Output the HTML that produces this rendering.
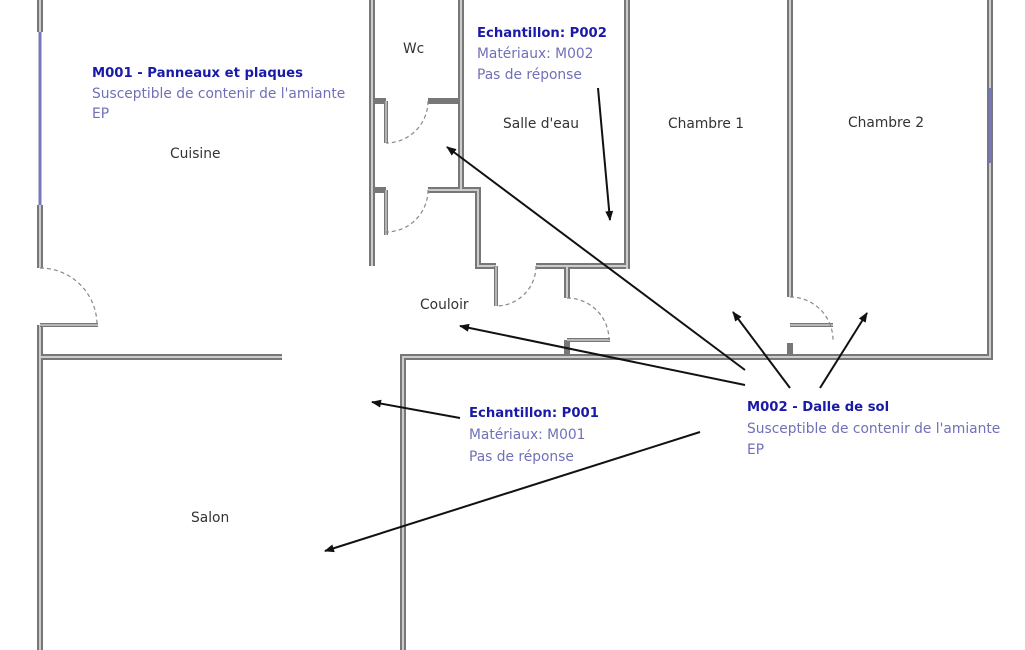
<!DOCTYPE html>
<html><head><meta charset="utf-8"><style>
html,body{margin:0;padding:0;background:#fff;}
svg{display:block;}
text{font-family:"DejaVu Sans","Liberation Sans",sans-serif;font-size:13.8px;}
.t{fill:#333;}
.b{fill:#1a1aa8;font-weight:bold;font-size:13.2px;}
.l{fill:#7070b8;}
</style></head><body>
<svg width="1025" height="650" viewBox="0 0 1025 650" xmlns="http://www.w3.org/2000/svg">
<defs>
<marker id="a" markerWidth="10" markerHeight="8" refX="9" refY="4" orient="auto" markerUnits="userSpaceOnUse"><path d="M0,0 L10,4 L0,8 z" fill="#111"/></marker>
</defs>
<g fill="none" stroke="#777" stroke-width="6" stroke-linecap="butt">
<path d="M40,0 V32 M40,205 V268 M40,325 V650"/>
<path d="M40,357 H282"/>
<path d="M372,0 V266"/>
<path d="M461,0 V190"/>
<path d="M372,101 H386 M428,101 H461"/>
<path d="M372,190 H386 M428,190 H478 V266 H496 M536,266 H628"/>
<path d="M627,0 V269"/>
<path d="M567,266 V298 M567,340 V357"/>
<path d="M403,650 V357 H990 V0"/>
<path d="M790,0 V297 M790,343 V357"/>
</g>
<g fill="none" stroke="#ccc" stroke-width="2">
<path d="M40,0 V32 M40,205 V268 M40,325 V650"/>
<path d="M40,357 H282"/>
<path d="M372,0 V266"/>
<path d="M461,0 V190"/>
<path d="M428,190 H478 V266 H496 M536,266 H628"/>
<path d="M627,0 V269"/>
<path d="M567,266 V298"/>
<path d="M403,650 V357 H990 V0"/>
<path d="M790,0 V297"/>
</g>
<g fill="none" stroke="#777" stroke-width="4">
<path d="M386,101 V143 M386,190 V235 M496,266 V306 M567,340 H610 M40,325 H98 M790,325 H833"/>
</g>
<g fill="none" stroke="#ddd" stroke-width="1.2">
<path d="M386,101 V143 M386,190 V235 M496,266 V306 M567,340 H610 M40,325 H98 M790,325 H833"/>
</g>
<path d="M40,32 V205 M990,88 V163" stroke="#7777bb" stroke-width="3" fill="none"/>
<g fill="none" stroke="#888" stroke-width="1.2" stroke-dasharray="4,3">
<path d="M40,268 A57,57 0 0 1 97,325"/>
<path d="M428,101 A42,42 0 0 1 386,143"/>
<path d="M428,190 A42,42 0 0 1 386,232"/>
<path d="M536,266 A40,40 0 0 1 496,306"/>
<path d="M567,298 A42,42 0 0 1 609,340"/>
<path d="M790,297 A43,43 0 0 1 833,340"/>
</g>
<g stroke="#111" stroke-width="2" marker-end="url(#a)">
<line x1="598" y1="88" x2="610" y2="220"/>
<line x1="745" y1="370" x2="447" y2="147"/>
<line x1="745" y1="385" x2="460" y2="326"/>
<line x1="790" y1="388" x2="733" y2="312"/>
<line x1="820" y1="388" x2="867" y2="313"/>
<line x1="460" y1="418" x2="372" y2="402"/>
<line x1="700" y1="432" x2="325" y2="551"/>
</g>
<text x="92" y="77" class="b">M001 - Panneaux et plaques</text>
<text x="92" y="98" class="l">Susceptible de contenir de l'amiante</text>
<text x="92" y="118" class="l">EP</text>
<text x="170" y="158" class="t">Cuisine</text>
<text x="403" y="53" class="t">Wc</text>
<text x="477" y="37" class="b">Echantillon: P002</text>
<text x="477" y="58" class="l">Matériaux: M002</text>
<text x="477" y="79" class="l">Pas de réponse</text>
<text x="503" y="128" class="t">Salle d'eau</text>
<text x="668" y="128" class="t">Chambre 1</text>
<text x="848" y="127" class="t">Chambre 2</text>
<text x="420" y="309" class="t">Couloir</text>
<text x="469" y="417" class="b">Echantillon: P001</text>
<text x="469" y="439" class="l">Matériaux: M001</text>
<text x="469" y="461" class="l">Pas de réponse</text>
<text x="747" y="411" class="b">M002 - Dalle de sol</text>
<text x="747" y="433" class="l">Susceptible de contenir de l'amiante</text>
<text x="747" y="454" class="l">EP</text>
<text x="191" y="522" class="t">Salon</text>
</svg>
</body></html>
